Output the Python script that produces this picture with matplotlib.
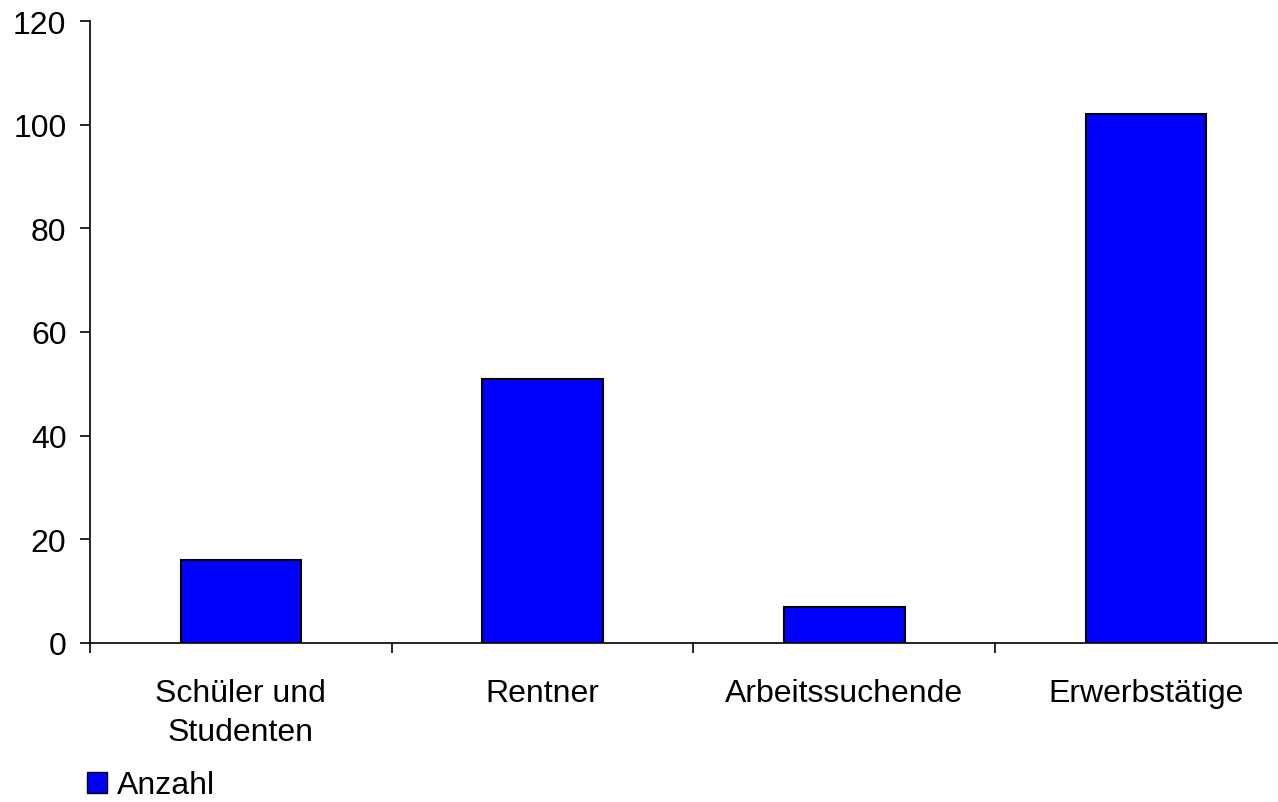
import matplotlib
matplotlib.use('Agg')
import matplotlib.pyplot as plt
from matplotlib.patches import Patch

plt.rcParams['font.family'] = ['Liberation Sans', 'DejaVu Sans']

categories = ['Schüler und\nStudenten', 'Rentner', 'Arbeitssuchende', 'Erwerbstätige']
anzahl = [16, 51, 7, 102]
yticks = [0, 20, 40, 60, 80, 100, 120]

W, H = 1278, 803
fig = plt.figure(figsize=(W / 100, H / 100), dpi=100)
ax = fig.add_axes([90 / W, 1 - 644 / H, (1297 - 90) / W, (644 - 22) / H])

x = range(len(categories))
ax.bar(x, anzahl, width=0.4, color='#0000ff', edgecolor='black', linewidth=1.5, zorder=3)

ax.set_xlim(-0.5, len(categories) - 0.5)
ax.set_ylim(0, 120)
ax.set_yticks(yticks)
ax.set_yticklabels([str(v) for v in yticks])

# category labels centered, ticks at the boundaries
ax.set_xticks([i - 0.5 for i in range(len(categories) + 1)])
ax.set_xticklabels([])
ax.set_xticks(list(x), minor=True)
ax.set_xticklabels(categories, minor=True, fontsize=23, linespacing=1.4)
ax.tick_params(axis='x', which='minor', length=0, pad=25)
ax.tick_params(axis='x', which='major', length=7, width=1.2, direction='out')
ax.tick_params(axis='y', length=7, width=1.2, labelsize=23, pad=10)

for s in ['top', 'right']:
    ax.spines[s].set_visible(False)
for s in ['left', 'bottom']:
    ax.spines[s].set_linewidth(1.2)

handle = Patch(facecolor='#0000ff', edgecolor='black', linewidth=1.0)
fig.legend([handle], ['Anzahl'], loc='lower left', bbox_to_anchor=(84 / W, -0.002),
           frameon=False, fontsize=23, handlelength=0.62, handleheight=0.62,
           handletextpad=0.3, borderaxespad=0.0, borderpad=0.1)

fig.savefig('out.png', dpi=100)
